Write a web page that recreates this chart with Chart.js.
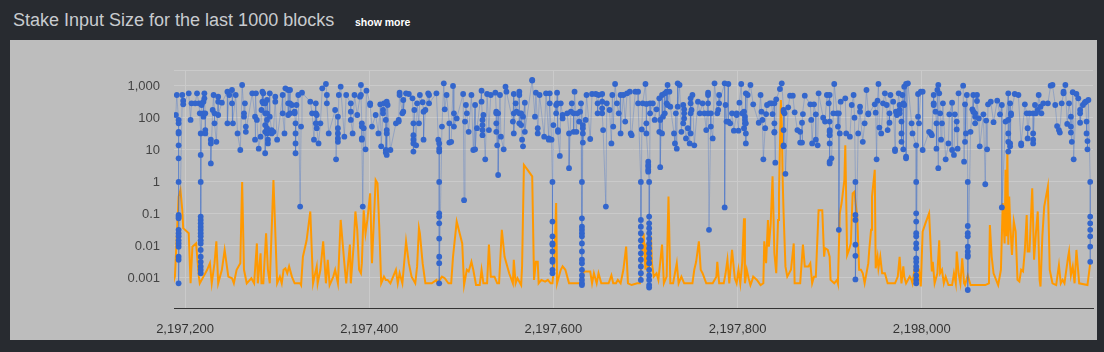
<!DOCTYPE html>
<html>
<head>
<meta charset="utf-8">
<script src="https://cdn.jsdelivr.net/npm/chart.js@4"></script>
<style>
  body { margin: 0; background: #282b30; width: 1104px; height: 352px; overflow: hidden; font-family: "Liberation Sans", Arial, sans-serif; }
  #title { position: absolute; left: 13px; top: 10px; font-size: 18px; color: #c8cbcf; }
  #more { position: absolute; left: 355px; top: 16px; font-size: 10.5px; font-weight: bold; color: #fff; }
  #panel { position: absolute; left: 10px; top: 40px; width: 1087px; height: 300px; background: #bdbdbd; overflow: hidden; }
</style>
</head>
<body>
<div id="title">Stake Input Size for the last 1000 blocks</div>
<div id="more">show more</div>
<div id="panel"><canvas id="chart" width="1087" height="300"></canvas></div>
<script>
// block heights are stored as offsets from this one
const firstHeight = 2197184;
const xMin = 2197188, xMax = 2198186;
const xTicks = [2197200, 2197400, 2197600, 2197800, 2198000];
const yTicks = [0.001, 0.01, 0.1, 1, 10, 100, 1000];
const yTop = 3162, yBottom = 0.000115;

// [offset, size] - blue points
const stakeInputs = [
  [6,124],[7,523],[9,87],[9,68],[9,37],[9,33],[9,14],[9,5.5],[9,1],[9,0.093],[9,0.083],[9,0.073],[9,0.032],[9,0.025],[9,0.02],[9,0.015],[9,0.012],[9,0.0095],[9,0.0046],[9,0.0037],[9,0.00068],
  [13,523],[14,348],[14,267],[20,590],[22,87],[23,287],[27,287],[29,590],[31,287],[32,140],
  [33,33],[33,7],[33,1],[33,0.083],[33,0.065],[33,0.051],[33,0.04],[33,0.032],[33,0.025],[33,0.02],[33,0.015],[33,0.012],[33,0.0075],[33,0.0046],[33,0.0032],[33,0.0023],[33,0.0018],[33,0.0014],
  [34,287],[34,255],[36,324],[36,140],[36,110],[37,590],[37,412],[38,140],[38,42],[38,33],
  [44,21],[44,16],[44,3.8],[46,178],[47,523],[48,140],[48,68],[50,18],[52,464],[52,324],[52,124],[56,301],[62,665],[62,68],[64,523],[67,750],[67,287],[68,68],[71,523],[73,33],[76,10],[78,1075],[80,140],[80,110],[81,287],[82,54],[82,37],[89,590],[92,110],[92,21],[93,590],[94,87],[96,11],[98,26],[99,178],[100,665],[100,324],
  [101,590],[101,287],[103,287],[103,140],[103,60],[103,37],[103,7.9],[105,365],[105,140],[105,87],[105,48],[105,33],[106,42],[106,21],[106,16],[108,590],[108,110],[110,42],[110,33],[112,37],[114,464],[114,324],[116,21],[122,523],[122,140],[124,33],[125,845],[128,750],[128,287],[128,124],[130,750],[130,287],[130,140],[132,255],[135,158],[135,140],[136,68],[136,33],[136,16],[136,7.9],[137,255],[139,523],[141,0.17],[142,54],[143,619],[152,324],[154,140],[156,21],[158,287],[158,140],[158,68],[159,124],[159,48],[161,16],[163,68],[165,845],[169,1155],[170,523],[170,287],[172,33],[179,178],[180,5.1],[182,110],[182,48],[182,33],[182,23],[182,18],[183,523],[185,953],[189,26],[191,523],[196,287],[196,158],[196,87],[198,33],[200,523],
  [203,124],[206,464],[207,1075],[207,523],[208,68],[208,54],[208,23],[208,21],[209,0.17],[210,48],[212,10.5],[213,714],[217,287],[217,255],[219,54],[223,124],[226,33],[228,267],[229,13],[231,178],[231,140],[232,287],[234,87],[234,10],[234,8.3],[235,33],[235,324],[235,42],[235,7],[236,255],[239,10],[245,68],[248,87],[248,77],[249,619],[249,523],[252,140],[253,365],[253,158],[256,590],[259,562],[263,412],[264,68],[264,29],[264,21],[264,16],[264,8.9],[265,178],[267,14],[268,287],[270,68],[271,523],[274,310],[275,158],[275,21],[277,178],[280,590],[281,523],[281,287],[289,590],[291,21],
  [292,16],[292,11],[292,8.9],[292,1],[292,0.105],[292,0.083],[292,0.051],[292,0.017],[292,0.0046],[292,0.0029],[292,0.00068],[295,54],[297,1212],[298,187],[300,523],[303,68],[303,17],
  [305,18],[307,1000],[308,140],[308,54],[311,97],[318,562],[319,0.27],[320,77],[321,255],[322,140],[324,37],[327,523],[329,10],[331,255],[331,10.5],[333,48],[338,714],[338,324],[339,87],[339,60],[339,42],[339,29],[340,124],[342,5.1],[344,562],[346,42],[348,523],[353,619],[354,158],[354,140],[354,68],[354,37],[355,14],[356,140],[356,1.65],[358,523],[359,26],[362,10.5],[364,953],[365,665],[372,77],[373,562],[373,140],[373,33],[375,287],[376,158],[379,665],[379,523],[379,140],[379,68],[381,140],[381,60],[382,21],[383,13],[383,110],[385,301],[385,37],[393,1540],[393,1480],[396,110],[397,619],[399,48],[399,33],[401,523],[406,26],
  [408,590],[411,23],[411,21],[412,590],[412,287],[414,21],[415,1],[415,0.058],[415,0.02],[415,0.012],[415,0.011],[415,0.0067],[415,0.0037],[415,0.0032],[415,0.0018],[415,0.0014],[416,60],[419,255],[419,140],[420,619],[420,287],[421,42],[421,37],[423,6.5],[424,287],[426,124],[426,97],[431,140],[433,33],[433,2.7],[435,158],[436,287],[438,140],[438,37],[439,665],[441,37],[442,140],[444,77],[445,158],[446,287],
  [447,1],[447,0.073],[447,0.04],[447,0.032],[447,0.025],[447,0.02],[447,0.012],[447,0.0067],[447,0.0037],[447,0.0029],[447,0.0018],[447,0.0012],[447,0.00087],[447,0.00068],[447,0.0006],
  [448,60],[448,48],[448,33],[448,17],[451,87],[452,523],[456,22],[458,562],[462,562],[464,287],[464,140],[465,523],[469,562],[469,324],[469,200],[469,140],[470,42],[473,0.17],[474,287],[477,178],[479,16],[480,523],[481,54],[483,1155],[485,287],[487,140],[489,523],[489,33],[492,523],[494,77],[496,590],[499,665],[500,33],[501,29],[505,665],
  [508,665],[508,287],[511,1],[511,0.065],[511,0.04],[511,0.025],[511,0.015],[511,0.0095],[511,0.0059],[511,0.0037],[511,0.0023],[511,0.0014],[511,0.00087],[512,44],[513,287],[516,1155],[517,275],[517,68],[517,33],[519,4.3],[519,3.4],[519,3],[519,2.4],[519,2.1],
  [520,1],[520,0.083],[520,0.051],[520,0.036],[520,0.025],[520,0.017],[520,0.012],[520,0.0085],[520,0.0059],[520,0.0041],[520,0.0029],[520,0.0018],[520,0.0012],[520,0.00087],[520,0.0006],[520,0.0005],
  [521,287],[521,140],[524,287],[526,87],[528,187],[531,412],[531,37],[532,87],[532,2.9],[534,523],[534,33],[535,110],[537,590],[537,140],[539,665],[539,287],[540,1075],[540,255],[542,665],[543,226],[547,33],[548,16],[549,140],[550,11],[551,1212],[551,226],[553,1075],[555,37],[557,255],[557,68],[558,187],[558,140],[558,97],[560,23],[562,48],[564,16],[565,412],[565,287],[565,140],[565,33],[566,178],[567,523],[569,14],[573,324],[575,140],[578,287],[580,140],[582,42],[584,619],[584,523],[584,287],[584,140],[585,0.032],[587,140],[587,54],[589,23],[591,1212],[594,140],[595,178],[596,523],[596,287],[602,1212],[602,0.16],[603,255],[604,77],[606,1155],[606,77],[608,68],
  [610,140],[612,40],[615,140],[615,124],[617,40],[618,301],[620,1155],[621,140],[623,158],[623,48],[624,110],[624,87],[624,68],[625,590],[625,68],[625,33],[625,16],[627,523],[630,1075],[633,267],[639,71],[641,523],[642,158],[643,87],[644,5.1],[646,48],[647,133],[648,255],[651,287],[653,287],[654,133],[656,287],[656,68],[656,37],[656,35],[657,4],[658,383],[662,805],[664,1212],[666,178],[666,158],[666,42],[666,14],[666,13],[667,140],[668,1.8],[671,215],[673,499],[676,499],[678,150],[681,42],[684,37],[684,17],[686,71],[686,17],[687,133],[689,499],[695,267],[696,87],[697,16],[699,267],[701,130],[701,21],[703,14],[704,590],[709,102],[711,77],
  [713,523],[715,287],[716,523],[716,77],[716,42],[716,37],[716,29],[716,16],[716,4.3],[716,3.8],[718,5.5],[720,140],[721,1155],[724,140],[725,54],[726,140],[726,0.032],[727,33],[728,324],[733,412],[734,33],[738,26],[740,255],[742,523],[743,102],[744,1],[744,0.093],[744,0.065],[744,0.011],[744,0.0049],[744,0.0009],[747,33],[749,226],[749,158],[752,18],[754,68],[756,750],[758,140],[758,130],[765,267],[766,147],[767,5.1],[768,348],[769,1155],[770,50],[772,33],[774,287],[776,590],[778,255],[779,42],[781,140],[781,71],[782,523],[785,324],[787,10.5],[787,9.3],[788,158],[789,124],[791,590],[792,255],[792,178],[792,140],[794,77],[794,33],[794,18],[795,523],[796,287],[796,10.5],[797,953],[797,255],[799,1155],[799,6.2],[799,5.5],[801,1212],[805,68],[806,33],
  [810,14],[810,1],[810,0.105],[810,0.058],[810,0.025],[810,0.02],[810,0.012],[810,0.0085],[810,0.0041],[810,0.0032],[810,0.0023],[810,0.0018],[810,0.0012],[810,0.00087],[810,0.00068],[812,562],[812,110],
  [813,68],[815,665],[817,665],[817,10],[824,37],[826,33],[827,29],[829,523],[829,287],[829,255],[831,158],[832,68],[832,11],[833,750],[834,2.7],[834,1075],[835,590],[836,140],[837,21],[838,68],[839,287],[842,5.1],[845,16],[846,130],[849,301],[849,10],[851,7],[852,130],[854,77],[854,44],[855,11],[856,590],[861,1020],[862,4.3],[863,267],[863,18],[864,33],[865,523],
  [866,1],[866,0.042],[866,0.025],[866,0.02],[866,0.0095],[866,0.0067],[866,0.0052],[866,0.0046],[866,0.00042],
  [869,37],[871,187],[872,523],[872,158],[874,140],[874,110],[874,68],[876,523],[876,340],[878,97],[879,13],[883,130],[885,0.85],[886,83],[887,10.5],[888,267],[891,324],[894,74],[898,348],[901,130],[903,255],[903,0.16],[907,77],
  [910,590],[910,87],[910,33],[910,18],[910,8.9],[912,287],[912,16],[912,13],[913,140],[913,124],[917,562],[921,523],[924,14],[924,16],[928,267],[930,140],[931,48],[931,23],[933,140],[937,140],[937,33],[937,21],[937,16],[939,255],[940,140],[942,178],[943,523],[945,226],[946,140],[948,287],[953,287],[956,1020],[958,1075],[961,255],[963,56],[965,42],[966,35],[968,287],[970,590],[970,665],[972,1075],[974,65],[976,287],[978,110],[978,54],[978,35],[979,18],[980,640],[981,5.1],[984,562],[986,412],[988,178],[988,140],[988,71],[991,255],[993,301],[994,324],[995,77],[995,33],[996,19],[996,10.5],[997,365],
  [999,1],[999,0.083],[999,0.051],[999,0.032],[999,0.02],[999,0.0095],[999,0.0032]
];

// [offset, value] - orange line
const orangeLine = [
  [3,0.0007],[5,0.0011],[9,0.35],[11,0.56],[13,0.13],[14,0.036],[20,0.025],[22,0.00068],[24,0.0095],[28,0.012],[31,0.0011],[32,0.00068],[36,0.0011],[40,0.0018],[43,0.0029],[45,0.00068],[48,0.0029],[50,0.014],[52,0.00068],[56,0.0018],[59,0.0075],[63,0.0011],[67,0.00098],[69,0.00068],[72,0.0018],[76,0.0029],[78,1],[80,0.0018],[83,0.00068],[88,0.00098],[91,0.00068],[94,0.012],[95,0.00068],[98,0.0059],[99,0.00068],
  [101,0.00068],[104,0.025],[106,0.0018],[108,0.00068],[112,1.15],[116,0.00068],[119,0.0011],[121,0.00068],[123,0.0018],[125,0.002],[127,0.0014],[129,0.0023],[132,0.0011],[135,0.00068],[141,0.00068],[142,0.0006],[144,0.0046],[148,0.015],[152,0.12],[155,0.00068],[159,0.0023],[160,0.00068],[163,0.0018],[166,0.014],[169,0.00068],[171,0.0037],[173,0.0006],[177,0.0011],[179,0.0018],[182,0.00068],[185,0.065],[189,0.0029],[191,0.00068],[195,0.011],[196,0.00068],[199,0.0095],[201,0.12],
  [203,0.032],[205,0.0018],[207,0.0014],[208,0.0029],[210,0.13],[212,0.025],[214,0.065],[217,0.44],[219,0.0029],[223,1.15],[225,0.91],[227,0.032],[229,0.00068],[232,0.0011],[234,0.00087],[236,0.00087],[239,0.00068],[242,0.0011],[245,0.0018],[247,0.00068],[249,0.0014],[252,0.00068],[256,0.014],[259,0.0029],[262,0.0011],[266,0.00068],[268,0.0023],[270,0.036],[271,0.025],[274,0.0029],[277,0.00068],[284,0.00068],[289,0.00087],[290,0.00068],[295,0.0011],[298,0.00098],[302,0.00068],
  [305,0.00068],[307,0.0046],[311,0.058],[317,0.012],[319,0.0006],[322,0.0018],[324,0.0016],[327,0.0032],[329,0.0018],[332,0.0006],[336,0.0006],[338,0.0018],[340,0.00068],[344,0.00068],[346,0.011],[348,0.0011],[352,0.0011],[355,0.00068],[357,0.00068],[360,0.032],[363,0.0046],[368,0.0014],[372,0.00068],[373,0.0037],[375,0.00068],[377,0.00098],[381,0.0006],[382,0.0023],[384,3.4],[388,2.4],[393,1.5],[395,0.00087],[397,0.0032],[399,0.0032],[400,0.00068],[403,0.00087],[407,0.00077],
  [410,0.00087],[413,0.00068],[415,0.00068],[417,0.0029],[419,0.22],[420,0.00068],[424,0.0018],[426,0.0023],[429,0.0018],[433,0.00068],[447,0.00068],[449,0.0016],[456,0.0016],[458,0.00068],[460,0.0014],[463,0.00068],[465,0.0014],[468,0.00068],[476,0.00068],[479,0.0012],[481,0.00068],[484,0.00068],[486,0.00087],[489,0.00068],[492,0.0018],[495,0.0095],[497,0.00068],[501,0.0006],[507,0.00068],
  [510,0.00068],[512,0.0046],[514,0.025],[516,0.0018],[517,0.012],[519,0.0011],[522,0.02],[523,0.0029],[525,0.0011],[528,0.0014],[530,0.00087],[534,0.011],[536,0.00068],[539,0.0011],[541,0.35],[543,0.00068],[546,0.00068],[548,0.0014],[550,0.0029],[552,0.00068],[555,0.0011],[558,0.00068],[567,0.00068],[569,0.0018],[571,0.0032],[574,0.014],[576,0.0018],[578,0.0014],[582,0.00068],[589,0.00068],[593,0.0011],[594,0.0032],[596,0.00068],[601,0.00068],[603,0.0014],[605,0.0037],[607,0.00068],
  [610,0.0075],[613,0.00098],[615,0.00068],[617,0.0018],[619,0.00068],[621,0.0029],[623,0.073],[624,0.00068],[626,0.0018],[628,0.00098],[630,0.0006],[632,0.00087],[633,0.0011],[637,0.00087],[641,0.0006],[644,0.00068],[645,0.014],[647,0.0029],[649,0.065],[650,0.0095],[652,0.051],[654,1.5],[656,0.0059],[658,0.0014],[660,0.065],[661,0.44],[663,365],[664,68],[665,1.15],[666,0.105],[668,0.0023],[670,0.0011],[674,0.0018],[677,0.012],[678,0.00068],[684,0.00068],[687,0.011],[689,0.0023],[693,0.0023],[695,0.0029],[697,0.00068],[699,0.0011],[701,0.0011],[704,0.13],[708,0.13],[710,0.0046],
  [711,0.0085],[714,0.0075],[716,0.0046],[717,0.00087],[721,0.00068],[724,0.00087],[725,0.00068],[727,0.105],[729,0.22],[732,1.15],[733,14],[735,0.0052],[737,0.0075],[739,0.012],[741,0.44],[743,0.5],[744,0.24],[746,0.083],[748,0.0018],[750,0.0018],[752,0.0014],[754,0.00068],[758,0.0029],[759,0.0075],[761,0.032],[762,0.35],[765,2.4],[766,0.002],[768,0.0046],[769,0.002],[771,0.0046],[773,0.0014],[776,0.0014],[779,0.00068],[787,0.00068],[790,0.0011],[792,0.0046],[794,0.00068],[796,0.0023],[797,0.0011],[799,0.00068],[803,0.0011],[805,0.00087],[806,0.00068],[809,0.0029],[813,0.0018],
  [815,0.00054],[817,0.028],[820,0.051],[824,0.105],[827,0.0016],[828,0.0032],[830,0.00068],[833,0.0014],[835,0.015],[836,0.0014],[838,0.0018],[840,0.00068],[842,0.0011],[845,0.0006],[849,0.0006],[851,0.0014],[853,0.00068],[854,0.0067],[856,0.0014],[858,0.00068],[860,0.0041],[862,0.00068],[863,0.0006],[866,0.0012],[869,0.0006],[885,0.0006],[889,0.00068],[890,0.045],[892,0.0046],[894,0.0014],[899,0.0006],[902,0.0018],[904,0.22],[906,0.012],[907,2.4],
  [908,0.02],[909,10],[910,0.011],[911,0.35],[912,0.058],[914,0.0052],[916,0.058],[918,0.028],[920,0.00087],[922,0.00077],[924,0.0018],[926,0.0016],[928,0.0075],[930,0.093],[931,0.0067],[933,0.0067],[936,0.63],[938,0.0037],[940,0.025],[942,0.12],[944,0.00087],[945,0.00054],[947,0.02],[949,0.17],[951,0.35],[953,0.71],[955,0.0018],[958,0.00068],[962,0.0006],[965,0.0025],[967,0.00068],[969,0.00087],[971,0.00068],[975,0.0046],[976,0.0067],[978,0.0012],[980,0.0023],[982,0.00068],[984,0.0075],[987,0.00068],[996,0.0006],[999,0.0029]
];

const toXY = pts => pts.map(p => ({ x: firstHeight + p[0], y: p[1] }));

const tickFont = { family: "'Liberation Sans', Arial, sans-serif", size: 13 };

new Chart(document.getElementById('chart').getContext('2d'), {
  type: 'line',
  data: {
    datasets: [
      {
        data: toXY(stakeInputs),
        borderColor: 'rgba(51,102,204,0.3)',
        borderWidth: 1,
        pointRadius: 2.9,
        pointBackgroundColor: '#3366cc',
        pointBorderWidth: 0,
        tension: 0
      },
      {
        data: toXY(orangeLine),
        borderColor: '#ff9900',
        borderWidth: 2,
        pointRadius: 0,
        tension: 0
      }
    ]
  },
  options: {
    responsive: false,
    animation: false,
    devicePixelRatio: 1,
    layout: { padding: { top: 30, right: 0, bottom: 0, left: 0 } },
    plugins: { legend: { display: false }, tooltip: { enabled: false } },
    scales: {
      x: {
        type: 'linear',
        min: xMin,
        max: xMax,
        afterBuildTicks: s => { s.ticks = xTicks.map(v => ({ value: v })); },
        afterFit: s => { s.height = 32; },
        grid: { color: '#cacaca', drawTicks: false },
        border: { color: '#333', width: 1 },
        ticks: {
          padding: 14,
          color: '#333',
          font: tickFont,
          maxRotation: 0,
          callback: v => v.toLocaleString('en-US')
        }
      },
      y: {
        type: 'logarithmic',
        min: yBottom,
        max: yTop,
        afterBuildTicks: s => { s.ticks = yTicks.concat([yTop]).map(v => ({ value: v })); },
        afterFit: s => { s.width = 164; },
        grid: { color: '#cacaca', drawTicks: false },
        border: { display: false },
        ticks: {
          padding: 14,
          color: '#444',
          font: tickFont,
          callback: v => (v === yTop ? '' : v.toLocaleString('en-US', { maximumFractionDigits: 3 }))
        }
      }
    }
  }
});
</script>
</body>
</html>
